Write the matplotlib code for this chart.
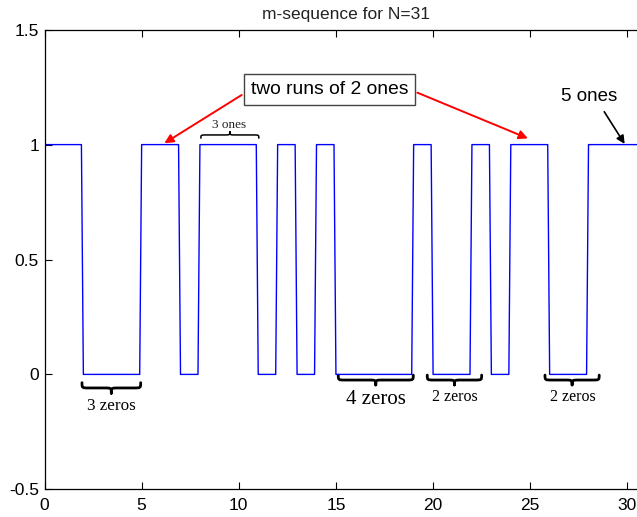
import numpy as np
import matplotlib
matplotlib.use("Agg")
import matplotlib.pyplot as plt
from matplotlib.path import Path
from matplotlib.patches import PathPatch

# one period of the length-31 m-sequence (chip values)
chips = [1, 1, 0, 0, 0, 1, 1, 0, 1, 1, 1, 0, 1, 0, 1, 0,
         0, 0, 0, 1, 0, 0, 1, 0, 1, 1, 0, 0, 1, 1, 1]
samples_per_chip = 10

xticks = [0, 5, 10, 15, 20, 25, 30]
yticks = [-0.5, 0, 0.5, 1, 1.5]

# run labels: (text, brace start, brace end, text x)
zero_runs = [("3 zeros", 1.93, 4.95, 3.46),
             ("4 zeros", 15.12, 18.98, 17.06),
             ("2 zeros", 19.70, 22.50, 21.11),
             ("2 zeros", 25.76, 28.55, 27.17)]


def brace(ax, x0, x1, y_end, y_tip, q=0.35, **kw):
    """curly brace between x0 and x1, ends at y_end, point at y_tip"""
    xm = 0.5 * (x0 + x1)
    ym = 0.5 * (y_end + y_tip)
    verts = [(x0, y_end), (x0, ym), (x0, ym), (x0 + q, ym),
             (xm - q, ym),
             (xm, ym), (xm, ym), (xm, y_tip),
             (xm, ym), (xm, ym), (xm + q, ym),
             (x1 - q, ym),
             (x1, ym), (x1, ym), (x1, y_end)]
    codes = [Path.MOVETO, Path.CURVE4, Path.CURVE4, Path.CURVE4,
             Path.LINETO,
             Path.CURVE4, Path.CURVE4, Path.CURVE4,
             Path.CURVE4, Path.CURVE4, Path.CURVE4,
             Path.LINETO,
             Path.CURVE4, Path.CURVE4, Path.CURVE4]
    ax.add_patch(PathPatch(Path(verts, codes), facecolor="none",
                           capstyle="round", joinstyle="round", **kw))


plt.rcParams["font.family"] = ["Liberation Sans", "DejaVu Sans"]

signal = np.repeat(chips, samples_per_chip)
t = np.arange(len(signal)) / samples_per_chip

fig = plt.figure(figsize=(6.37, 5.17), dpi=100)
ax = fig.add_axes([44.5 / 637, 27.7 / 517, 602.3 / 637, 459.6 / 517])
ax.plot(t, signal, color="#0000ff", lw=1.0)

ax.set_xlim(0, 31)
ax.set_ylim(-0.5, 1.5)
ax.set_xticks(xticks)
ax.set_yticks(yticks)
ax.set_yticklabels(["-0.5", "0", "0.5", "1", "1.5"])
ax.tick_params(direction="in", top=True, right=True, length=5, width=0.8,
               labelsize=12.5, colors="black")
ax.tick_params(axis="x", pad=6)
ax.tick_params(axis="y", pad=4)
for s in ax.spines.values():
    s.set_linewidth(0.9)
ax.set_title("m-sequence for N=31", fontsize=12.5, pad=8, color="#222222")

# boxed note with two red arrows
ax.text(14.68, 1.241, "two runs of 2 ones", fontsize=13.9, ha="center",
        va="center",
        bbox=dict(boxstyle="square,pad=0.36", facecolor="white",
                  edgecolor="#444444", lw=1.0))
red = dict(arrowstyle="-|>", color="#ff0000", lw=1.4, mutation_scale=13,
           shrinkA=0, shrinkB=0)
ax.annotate("", xy=(6.17, 1.006), xytext=(10.15, 1.216), arrowprops=red)
ax.annotate("", xy=(24.88, 1.027), xytext=(19.19, 1.226), arrowprops=red)

ax.text(28.05, 1.211, "5 ones", fontsize=13.5, ha="center", va="center")
ax.annotate("", xy=(29.86, 1.003), xytext=(28.81, 1.143),
            arrowprops=dict(arrowstyle="-|>", color="black", lw=1.2,
                            mutation_scale=12, shrinkA=0, shrinkB=0))

# run of three ones
brace(ax, 8.05, 11.03, 1.028, 1.056, q=0.3, edgecolor="black", lw=1.1)
ax.text(9.49, 1.085, "3 ones", fontsize=9.5, family="Liberation Serif",
        ha="center", va="center", color="#222222")

# runs of zeros
for label, x0, x1, xt in zero_runs:
    if label == "3 zeros":
        y_end, y_tip, yt, fs = -0.036, -0.082, -0.138, 12.3
    elif label == "4 zeros":
        y_end, y_tip, yt, fs = -0.003, -0.046, -0.111, 15.0
    else:
        y_end, y_tip, yt, fs = -0.003, -0.046, -0.100, 11.5
    brace(ax, x0, x1, y_end, y_tip, edgecolor="black", lw=2.0)
    ax.text(xt, yt, label, fontsize=fs, family="Liberation Serif",
            ha="center", va="center")

fig.savefig("out.png", dpi=100)
